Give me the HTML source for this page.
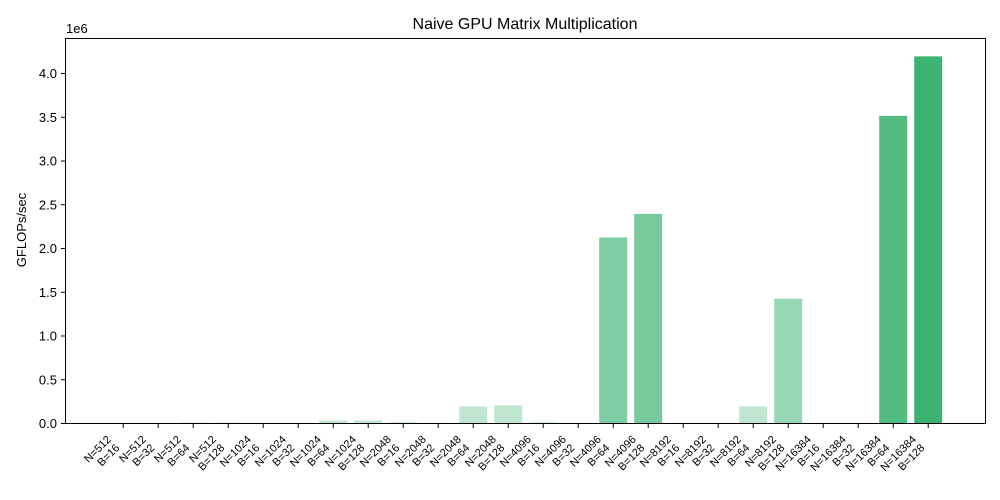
<!DOCTYPE html>
<html><head><meta charset="utf-8"><style>
body{margin:0;background:#fff}
svg{display:block;font-family:"Liberation Sans","DejaVu Sans",sans-serif}
</style></head><body>
<svg id="chart" width="1000" height="500" viewBox="0 0 1000 500">
<rect width="1000" height="500" fill="#fff"/>
<text x="525" y="29" font-size="16" text-anchor="middle">Naive GPU Matrix Multiplication</text>
<text x="66" y="33" font-size="13">1e6</text>
<text transform="translate(26,230) rotate(-90)" font-size="13" text-anchor="middle">GFLOPs/sec</text>
<g id="bars"></g><g id="yticks"></g><g id="xticks"></g>
<rect x="65.5" y="38.5" width="920" height="385" fill="none" stroke="#000" stroke-width="1"/>
</svg>
<script>
const nLabels=["512","512","512","512","1024","1024","1024","1024","2048","2048","2048","2048","4096","4096","4096","4096","8192","8192","8192","8192","16384","16384","16384","16384"];
const bLabels=["16","32","64","128","16","32","64","128","16","32","64","128","16","32","64","128","16","32","64","128","16","32","64","128"];
const values=[0.002,0.002,0.005,0.005,0.002,0.002,0.03,0.03,0.01,0.002,0.19,0.2,0.01,0.002,2.12,2.39,0.002,0.002,0.19,1.42,0.002,0.002,3.51,4.19];
const yTicks=[0,0.5,1.0,1.5,2.0,2.5,3.0,3.5,4.0];
const ns="http://www.w3.org/2000/svg";
const x0=123.2,step=35,bw=28;
const xs=i=>x0+i*step;
const ys=v=>423-v*87.5;
const maxV=Math.max(...values);
const bars=document.getElementById('bars');
values.forEach((v,i)=>{
 const r=document.createElementNS(ns,'rect');
 
 
 r.setAttribute('x',xs(i)-bw/2);r.setAttribute('width',bw);
 r.setAttribute('y',ys(v));r.setAttribute('height',423-ys(v));
 r.setAttribute('fill','#3cb371');r.setAttribute('fill-opacity',0.3+0.7*v/maxV);
 bars.appendChild(r);
});
const yt=document.getElementById('yticks');
yTicks.forEach(t=>{
 const l=document.createElementNS(ns,'line');
 
 
 l.setAttribute('x1',61);l.setAttribute('x2',65.5);l.setAttribute('y1',ys(t)+.5);l.setAttribute('y2',ys(t)+.5);l.setAttribute('stroke','#000');
 yt.appendChild(l);
 const tx=document.createElementNS(ns,'text');
 
 
 tx.setAttribute('x',57);tx.setAttribute('y',ys(t)+5);tx.setAttribute('font-size','13');tx.setAttribute('text-anchor','end');
 tx.textContent=t.toFixed(1);yt.appendChild(tx);
});
const xt=document.getElementById('xticks');
nLabels.forEach((n,i)=>{
 const x=xs(i);
 const l=document.createElementNS(ns,'line');
 
 
 l.setAttribute('x1',x);l.setAttribute('x2',x);l.setAttribute('y1',423.5);l.setAttribute('y2',428);l.setAttribute('stroke','#000');
 xt.appendChild(l);
 const tx=document.createElementNS(ns,'text');
 
 
 tx.setAttribute('transform','translate('+(x-11.5)+',440) rotate(-45)');
 tx.setAttribute('font-size','11');tx.setAttribute('text-anchor','end');
 const a=document.createElementNS(ns,'tspan');a.setAttribute('x',0);a.setAttribute('y',0);a.textContent='N='+n;
 const b=document.createElementNS(ns,'tspan');b.setAttribute('x',0);b.setAttribute('y',12);b.textContent='B='+bLabels[i];
 tx.appendChild(a);tx.appendChild(b);xt.appendChild(tx);
});
</script>
</body></html>
